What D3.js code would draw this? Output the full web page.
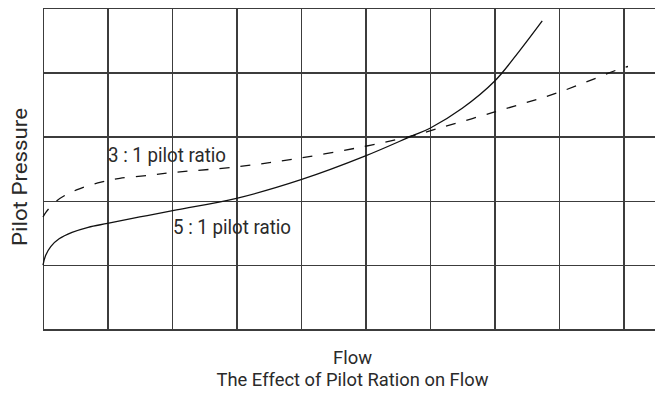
<!DOCTYPE html>
<html><head><meta charset="utf-8">
<script src="https://cdn.jsdelivr.net/npm/d3@7"></script>
<style>html,body{margin:0;padding:0;background:#fff;overflow:hidden}</style>
</head><body>
<svg id="c" width="655" height="393"></svg>
<script>
// Data (x: flow grid units, y: pilot pressure grid units)
const xTicks = [0,1,2,3,4,5,6,7,8,9,10];
const yTicks = [0,1,2,3,4,5];
const ratio5X = [0.00,0.04,0.12,0.25,0.45,0.70,1.00,1.50,2.07,3.00,4.00,5.00,5.72,6.00,6.50,7.00,7.40,7.74];
const ratio5Y = [1.00,1.15,1.29,1.41,1.51,1.59,1.65,1.75,1.86,2.04,2.33,2.70,3.01,3.13,3.44,3.86,4.35,4.80];
const ratio3X = [0.00,0.05,0.21,0.33,0.52,0.85,1.19,1.66,2.00,3.00,3.95,5.00,5.72,6.00,6.99,8.00,8.99,9.07];
const ratio3Y = [1.75,1.83,2.00,2.08,2.17,2.28,2.35,2.40,2.44,2.53,2.66,2.85,3.01,3.09,3.38,3.69,4.07,4.09];
const labels = {ratio3:"3 : 1 pilot ratio", ratio5:"5 : 1 pilot ratio", x:"Flow", y:"Pilot Pressure", title:"The Effect of Pilot Ration on Flow"};

const svg = d3.select("#c");
const m = {left:43, top:8, right:688, bottom:329.5};
const x = d3.scaleLinear().domain([0,10]).range([m.left, m.right]);
const y = d3.scaleLinear().domain([0,5]).range([m.bottom, m.top]);
const font = "Roboto, 'Liberation Sans', sans-serif";
const gridColor = "#3c3c3c";

// grid via axes
const gx = svg.append("g").attr("transform",`translate(0,${m.bottom})`)
  .call(d3.axisBottom(x).tickValues(xTicks).tickSize(-(m.bottom-m.top)).tickFormat(""));
const gy = svg.append("g").attr("transform",`translate(${m.left},0)`)
  .call(d3.axisLeft(y).tickValues(yTicks).tickSize(-(m.right-m.left)).tickFormat(""));
[gx,gy].forEach(g=>{
  g.select(".domain").remove();
  g.selectAll(".tick line").attr("stroke",gridColor).attr("stroke-width",1.4).attr("shape-rendering","crispEdges");
});

const line = d3.line().x(d=>x(d[0])).y(d=>y(d[1])).curve(d3.curveCatmullRom.alpha(0.5));
const s5 = ratio5X.map((v,i)=>[v,ratio5Y[i]]);
const s3 = ratio3X.map((v,i)=>[v,ratio3Y[i]]);
svg.append("path").attr("d",line(s5)).attr("fill","none").attr("stroke","#111").attr("stroke-width",1.3);
svg.append("path").attr("d",line(s3)).attr("fill","none").attr("stroke","#111").attr("stroke-width",1.3)
  .attr("stroke-dasharray","10,11");

function txt(t, px, py, len, anchor, rot, fs){
  const e = svg.append("text").text(t).attr("font-family",font).attr("font-weight",400)
    .attr("font-size",fs||20).attr("fill","#2a2a2a").attr("textLength",len).attr("lengthAdjust","spacingAndGlyphs")
    .attr("text-anchor",anchor||"start");
  if(rot) e.attr("transform",`translate(${px},${py}) rotate(-90)`);
  else e.attr("x",px).attr("y",py);
  return e;
}
// background behind curve labels
svg.append("rect").attr("x",107).attr("y",143).attr("width",121).attr("height",22).attr("fill","#fff").lower();
txt(labels.ratio3, 108, 161.5, 118);
txt(labels.ratio5, 173, 233.5, 118);
txt(labels.x, 352.5, 363.5, 39, "middle", false, 19);
txt(labels.title, 352.5, 386, 272, "middle", false, 19);
txt(labels.y, 26.5, 177, 138, "middle", true);
</script>
</body></html>
